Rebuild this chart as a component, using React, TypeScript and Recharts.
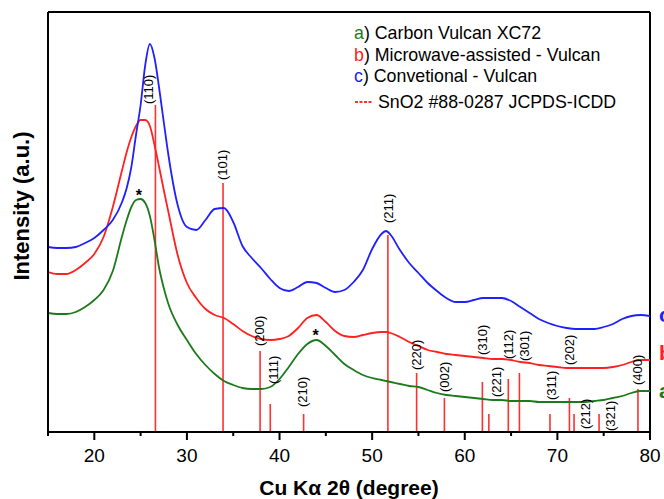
import React from "react";
import {
  ComposedChart,
  Line,
  XAxis,
  YAxis,
  ReferenceLine,
  ReferenceDot,
  Legend,
} from "recharts";

// 2θ grid (degree) shared by the three patterns
const twoTheta = [
  15, 16, 17, 18, 19, 20, 21, 22, 23, 23.5, 24, 24.5, 25, 25.5, 26, 26.5, 27,
  27.5, 28, 29, 30, 31, 32, 33, 34, 35, 36, 37, 38, 39, 40, 41, 42, 43, 44, 45,
  46, 47, 48, 49, 50, 51, 51.5, 52, 53, 54, 55, 56, 57, 58, 59, 60, 61, 62, 63,
  64, 65, 66, 67, 68, 69, 70, 71, 72, 73, 74, 75, 76, 77, 78, 79, 80,
];

// a) Carbon Vulcan XC72 (green)
const carbonVulcan = [
  119, 118, 118, 120, 125, 132, 142, 161, 196, 212, 225, 232, 233, 229, 216,
  192, 164, 144, 128, 107, 92, 78, 67, 58, 51, 47, 44, 43, 43, 45, 53, 65, 78,
  88, 92, 86, 77, 68, 62, 57, 54, 52, 51, 50, 48, 46, 45, 42, 39, 37, 36, 35,
  34, 33, 32, 32, 31, 31, 31, 30, 30, 30, 30, 30, 30, 31, 32, 34, 36, 39, 41,
  41,
];

// b) Microwave-assisted - Vulcan (red)
const microwaveVulcan = [
  160, 158, 158, 162, 169, 178, 195, 225, 262, 280, 295, 306, 312, 312, 306,
  287, 265, 242, 220, 177, 149, 134, 123, 117, 114, 108, 101, 96, 93, 92, 93,
  96, 104, 114, 117, 110, 101, 96, 95, 97, 99, 100, 100, 99, 95, 90, 86, 82,
  80, 78, 77, 76, 75, 74, 73, 73, 72, 70, 69, 67, 66, 65, 64, 64, 64, 64, 64,
  65, 67, 70, 72, 72,
];

// c) Convetional - Vulcan (blue)
const conventionalVulcan = [
  185, 184, 184, 185, 189, 194, 202, 212, 230, 244, 265, 297, 327, 367, 388,
  374, 344, 310, 277, 227, 205, 202, 212, 223, 224, 210, 186, 174, 164, 153,
  144, 141, 145, 150, 149, 144, 140, 142, 150, 162, 183, 198, 201, 197, 182,
  169, 159, 149, 141, 134, 130, 130, 132, 134, 134, 134, 131, 125, 119, 113,
  109, 106, 104, 103, 103, 103, 105, 108, 113, 116, 117, 116,
];

// SnO2 #88-0287 JCPDS-ICDD reference peaks
const peakPos = [26.6, 33.9, 37.9, 39.0, 42.6, 51.7, 54.8, 57.8, 61.9, 62.6, 64.7, 65.9, 69.2, 71.3, 71.8, 74.5, 78.7];
const peakInt = [327, 249, 81, 28, 18, 197, 59, 34, 50, 18, 53, 59, 18, 34, 18, 18, 43];
const peakHkl = ["(110)", "(101)", "(200)", "(111)", "(210)", "(211)", "(220)", "(002)", "(310)", "(221)", "(112)", "(301)", "(311)", "(202)", "(212)", "(321)", "(400)"];
const hklLabelX = [25.9, 33.8, 37.8, 39.3, 42.5, 51.8, 54.8, 57.8, 61.9, 63.4, 64.7, 66.4, 69.4, 71.3, 73.0, 75.7, 78.7];
const hklLabelY = [328, 252, 86, 48, 25, 209, 62, 40, 77, 35, 73, 71, 32, 67, 3, 1, 47];

// carbon peaks marked with *
const starX = [24.8, 43.9];
const starY = [240, 100];

const xTicks = [15, 20, 25, 30, 35, 40, 45, 50, 55, 60, 65, 70, 75, 80];

const seriesKeys = ["a", "b", "c"];
const seriesNames = ["Carbon Vulcan XC72", "Microwave-assisted - Vulcan", "Convetional - Vulcan"];
const seriesColors = ["#1c7a1c", "#ff2020", "#2020ff"];
const endLabelY = [34, 72, 110];

const FONT = "'Liberation Sans', Arial, Helvetica, sans-serif";
const REF_RED = "#ff3030";

const data = twoTheta.map((t, i) => ({
  t,
  a: carbonVulcan[i],
  b: microwaveVulcan[i],
  c: conventionalVulcan[i],
}));

const XTick = (props: any) => {
  const { x, y, payload } = props;
  const major = payload.value % 10 === 0;
  return (
    <g>
      <line x1={x} x2={x} y1={y} y2={y + (major ? 8 : 4)} stroke="#000" strokeWidth={2} />
      {major && (
        <text x={x} y={y + 30} textAnchor="middle" fontSize={19} fontFamily={FONT} fill="#000">
          {payload.value}
        </text>
      )}
    </g>
  );
};

const XTitle = (props: any) => {
  const { viewBox } = props;
  return (
    <text
      x={viewBox.x + viewBox.width / 2}
      y={viewBox.y + 63}
      textAnchor="middle"
      fontSize={21}
      fontWeight="bold"
      fontFamily={FONT}
      fill="#000"
    >
      Cu Kα 2θ (degree)
    </text>
  );
};

const YTitle = () => (
  <text
    x={29}
    y={206}
    transform="rotate(-90, 29, 206)"
    textAnchor="middle"
    fontSize={22}
    fontWeight="bold"
    fontFamily={FONT}
    fill="#000"
  >
    Intensity (a.u.)
  </text>
);

const renderLegend = () => (
  <div style={{ fontFamily: FONT, fontSize: 17.8, lineHeight: "21.5px", color: "#000" }}>
    {seriesKeys.map((k, i) => (
      <div key={k} style={{ whiteSpace: "nowrap" }}>
        <span style={{ color: seriesColors[i] }}>{k}</span>) {seriesNames[i]}
      </div>
    ))}
    <div style={{ whiteSpace: "nowrap", marginTop: 4, display: "flex", alignItems: "center" }}>
      <svg width={24} height={10}>
        <line x1={1} x2={19} y1={5} y2={5} stroke={REF_RED} strokeWidth={2} strokeDasharray="3 1.5" />
      </svg>
      <span>SnO2 #88-0287 JCPDS-ICDD</span>
    </div>
  </div>
);

export default function App() {
  return (
    <div style={{ position: "absolute", left: 0, top: 0, width: 664, height: 499, background: "#fff" }}>
      <ComposedChart width={664} height={499} data={data} margin={{ top: 12, right: 14, bottom: 0, left: 0 }}>
        <XAxis
          dataKey="t"
          type="number"
          domain={[15, 80]}
          ticks={xTicks}
          interval={0}
          tickLine={false}
          tickSize={0}
          tickMargin={0}
          tick={<XTick />}
          axisLine={{ stroke: "#000", strokeWidth: 2 }}
          height={67}
          allowDataOverflow
          label={<XTitle />}
        />
        <YAxis
          type="number"
          domain={[0, 420]}
          width={48}
          tick={false}
          tickLine={false}
          axisLine={{ stroke: "#000", strokeWidth: 2 }}
          allowDataOverflow
          label={<YTitle />}
        />
        <ReferenceLine y={420} stroke="#000" strokeWidth={2} />
        <ReferenceLine x={80} stroke="#000" strokeWidth={2} />
        {peakPos.map((p, i) => (
          <ReferenceLine
            key={"pk" + i}
            segment={[
              { x: p, y: 0 },
              { x: p, y: peakInt[i] },
            ]}
            stroke={REF_RED}
            strokeWidth={1.6}
          />
        ))}
        <Legend
          layout="vertical"
          align="center"
          verticalAlign="middle"
          content={renderLegend}
          wrapperStyle={{ top: 23, left: 354, width: 300, height: 95 }}
        />
        {seriesKeys.map((k, i) => (
          <Line
            key={k}
            type="monotone"
            dataKey={k}
            name={seriesNames[i]}
            stroke={seriesColors[i]}
            strokeWidth={1.8}
            dot={false}
            activeDot={false}
            isAnimationActive={false}
          />
        ))}
        {peakHkl.map((h, i) => (
          <ReferenceDot
            key={"hkl" + i}
            x={hklLabelX[i]}
            y={hklLabelY[i]}
            r={0}
            ifOverflow="visible"
            shape={(p: any) => (
              <text
                x={p.cx}
                y={p.cy}
                transform={`rotate(-90, ${p.cx}, ${p.cy})`}
                textAnchor="start"
                dominantBaseline="central"
                fontSize={13}
                fontFamily={FONT}
                fill="#000"
              >
                {h}
              </text>
            )}
          />
        ))}
        {starX.map((s, i) => (
          <ReferenceDot
            key={"st" + i}
            x={s}
            y={starY[i]}
            r={0}
            ifOverflow="visible"
            shape={(p: any) => (
              <text x={p.cx} y={p.cy + 9} textAnchor="middle" fontSize={16} fontWeight="bold" fontFamily={FONT} fill="#000">
                *
              </text>
            )}
          />
        ))}
        {seriesKeys.map((k, i) => (
          <ReferenceDot
            key={"end" + k}
            x={80}
            y={endLabelY[i]}
            r={0}
            ifOverflow="visible"
            shape={(p: any) => (
              <text x={p.cx + 9} y={p.cy} fontSize={21} fontWeight="bold" fontFamily={FONT} fill={seriesColors[i]}>
                {k}
              </text>
            )}
          />
        ))}
      </ComposedChart>
    </div>
  );
}
